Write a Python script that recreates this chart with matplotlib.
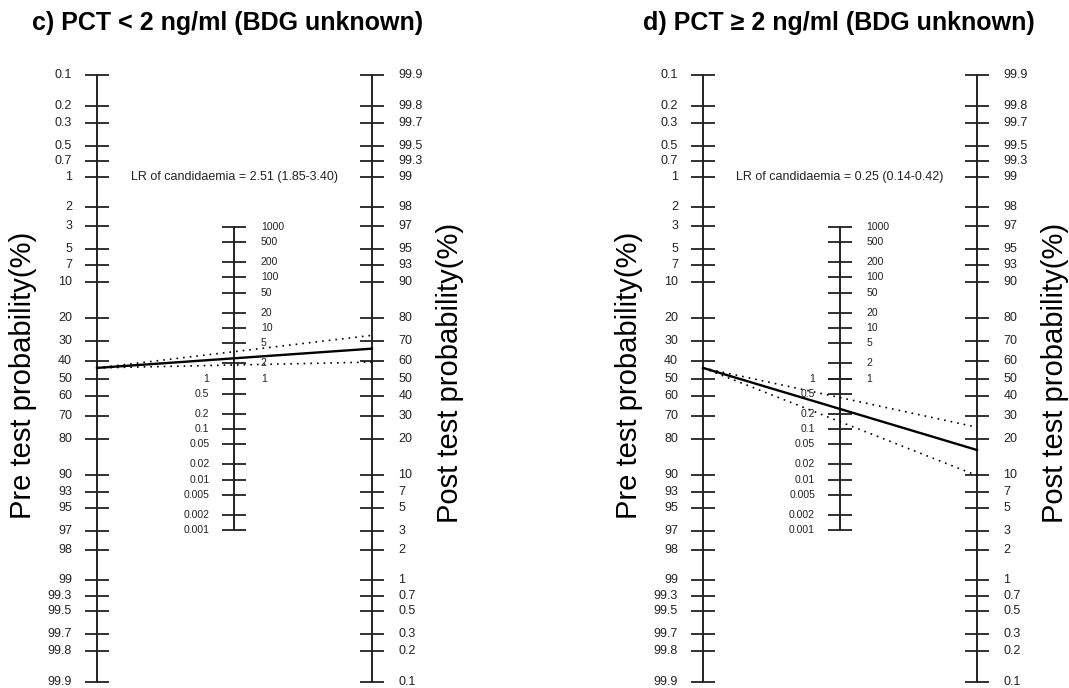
import numpy as np
import matplotlib
matplotlib.use('Agg')
import matplotlib.pyplot as plt

plt.rcParams['font.family'] = ['Liberation Sans', 'DejaVu Sans']

# ---- data ----
prob_ticks = [0.1, 0.2, 0.3, 0.5, 0.7, 1, 2, 3, 5, 7, 10, 20, 30, 40, 50, 60, 70,
              80, 90, 93, 95, 97, 98, 99, 99.3, 99.5, 99.7, 99.8, 99.9]
lr_ticks_up = [1000, 500, 200, 100, 50, 20, 10, 5, 2, 1]
lr_ticks_down = [1, 0.5, 0.2, 0.1, 0.05, 0.02, 0.01, 0.005, 0.002, 0.001]

titles = ['c) PCT < 2 ng/ml (BDG unknown)', 'd) PCT \u2265 2 ng/ml (BDG unknown)']
pretest = [44, 44]          # pre-test probability (%)
lr = [2.51, 0.25]
lr_lo = [1.85, 0.14]
lr_hi = [3.40, 0.42]
lr_text = ['LR of candidaemia = 2.51 (1.85-3.40)', 'LR of candidaemia = 0.25 (0.14-0.42)']

# ---- layout ----
W, H = 1069, 688
fig = plt.figure(figsize=(W / 100, H / 100), dpi=100)
panel_px = [(97, 372), (703, 977)]
title_px = [228, 839]
top_px, bot_px = 75, 682


def logit(p):
    p = np.asarray(p, dtype=float) / 100.0
    return np.log(p / (1 - p))


def post_prob(pre, L):
    odds = pre / (100 - pre) * L
    return 100 * odds / (1 + odds)


def fmt(v):
    return '%g' % v


col = '#222222'
ext = float(logit(99.9))

for i in range(2):
    x0, x1 = panel_px[i]
    ax = fig.add_axes([x0 / W, (H - bot_px) / H, (x1 - x0) / W, (bot_px - top_px) / H])
    ax.set_xlim(0, 2)
    ax.set_ylim(-ext, ext)
    ax.axis('off')

    # left axis (pre-test): y = -logit
    yl = -logit(prob_ticks)
    ax.plot([0, 0], [yl.min(), yl.max()], color=col, lw=1.4, clip_on=False)
    ax.plot(np.zeros(len(yl)), yl, ls='none', marker='_', ms=17, mew=1.3, color=col, clip_on=False)
    for v, y in zip(prob_ticks, yl):
        ax.annotate(fmt(v), (0, y), xytext=(-18, 0), textcoords='offset points',
                    ha='right', va='center', fontsize=9, color=col)

    # right axis (post-test): y = logit
    yr = logit(prob_ticks)
    ax.plot([2, 2], [yr.min(), yr.max()], color=col, lw=1.4, clip_on=False)
    ax.plot(np.full(len(yr), 2.0), yr, ls='none', marker='_', ms=17, mew=1.3, color=col, clip_on=False)
    for v, y in zip(prob_ticks, yr):
        ax.annotate(fmt(v), (2, y), xytext=(19, 0), textcoords='offset points',
                    ha='left', va='center', fontsize=9, color=col)

    # middle axis (LR): y = log(LR)/2
    yu = np.log(lr_ticks_up) / 2
    yd = np.log(lr_ticks_down) / 2
    ax.plot([1, 1], [yd.min(), yu.max()], color=col, lw=1.4, clip_on=False)
    allm = np.concatenate([yu, yd])
    ax.plot(np.ones(len(allm)), allm, ls='none', marker='_', ms=17, mew=1.3, color=col, clip_on=False)
    for v, y in zip(lr_ticks_up, yu):
        ax.annotate(fmt(v), (1, y), xytext=(19, 0), textcoords='offset points',
                    ha='left', va='center', fontsize=7.5, color=col)
    for v, y in zip(lr_ticks_down, yd):
        ax.annotate(fmt(v), (1, y), xytext=(-18, 0), textcoords='offset points',
                    ha='right', va='center', fontsize=7.5, color=col)

    # lines
    y_pre = -float(logit(pretest[i]))
    for L, ls, lw in [(lr[i], '-', 1.7), (lr_lo[i], (0, (1, 3)), 1.2), (lr_hi[i], (0, (1, 3)), 1.2)]:
        y_post = float(logit(post_prob(pretest[i], L)))
        ax.plot([0, 2], [y_pre, y_post], color='black', ls=ls, lw=lw, clip_on=False)

    # LR text at level of "1" on the pre-test axis
    ax.text(1, float(logit(99)), lr_text[i], ha='center', va='center', fontsize=9, color=col)

    # titles and axis labels
    fig.text(title_px[i] / W, 1 - 23 / H, titles[i], ha='center', va='center',
             fontsize=18, fontweight='bold', color='black')
    fig.text((x0 - 74) / W, 1 - 375 / H, 'Pre test probability(%)', rotation=90,
             ha='center', va='center', fontsize=21, color='black')
    fig.text((x1 + 78) / W, 1 - 373 / H, 'Post test probability(%)', rotation=90,
             ha='center', va='center', fontsize=21, color='black')

fig.savefig('out.png', dpi=100)
